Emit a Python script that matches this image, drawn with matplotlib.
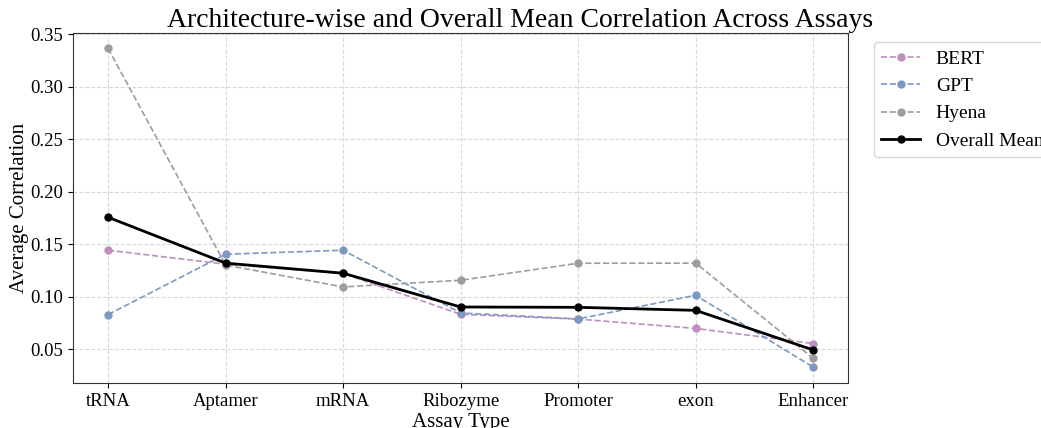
import matplotlib
matplotlib.use("Agg")
import matplotlib.pyplot as plt
import numpy as np

plt.rcParams['font.family'] = ['Liberation Serif', 'DejaVu Serif']

assays = ['tRNA', 'Aptamer', 'mRNA', 'Ribozyme', 'Promoter', 'exon', 'Enhancer']
bert = [0.1443, 0.1310, 0.1222, 0.0832, 0.0787, 0.0698, 0.0554]
gpt = [0.0830, 0.1405, 0.1443, 0.0845, 0.0788, 0.1014, 0.0329]
hyena = [0.3366, 0.1302, 0.1093, 0.1157, 0.1319, 0.1320, 0.0414]
overall = [0.1757, 0.1320, 0.1224, 0.0902, 0.0899, 0.0870, 0.0493]

arch_colors = {'BERT': '#bf8fbf', 'GPT': '#7c99c2', 'Hyena': '#a09c9c'}

fig = plt.figure(figsize=(10.41, 4.28), dpi=100)
ax = fig.add_axes([0.070, 0.105, 0.745, 0.819])

x = np.arange(len(assays))
for name, vals in [('BERT', bert), ('GPT', gpt), ('Hyena', hyena)]:
    ax.plot(x, vals, linestyle='--', marker='o', markersize=5, linewidth=1.2,
            color=arch_colors[name], label=name)
ax.plot(x, overall, linestyle='-', marker='o', markersize=5, linewidth=2.0,
        color='black', label='Overall Mean')

ax.set_xticks(x)
ax.set_xticklabels(assays)
ax.tick_params(labelsize=13.5)
ax.set_xlabel('Assay Type', fontsize=15, labelpad=2)
ax.set_ylabel('Average Correlation', fontsize=15, labelpad=1)
# title centred on the whole figure, not just the axes
fig.text(0.5, 1 - 26.7 / 428, 'Architecture-wise and Overall Mean Correlation Across Assays',
         fontsize=20, ha='center', va='baseline')
ax.grid(True, linestyle='--', color='#d0d0d0', linewidth=0.8, alpha=0.8)
for s in ax.spines.values():
    s.set_color('#333333')

ax.legend(loc='upper left', bbox_to_anchor=(1.02, 1), fontsize=14)

fig.savefig('out.png', dpi=100)
